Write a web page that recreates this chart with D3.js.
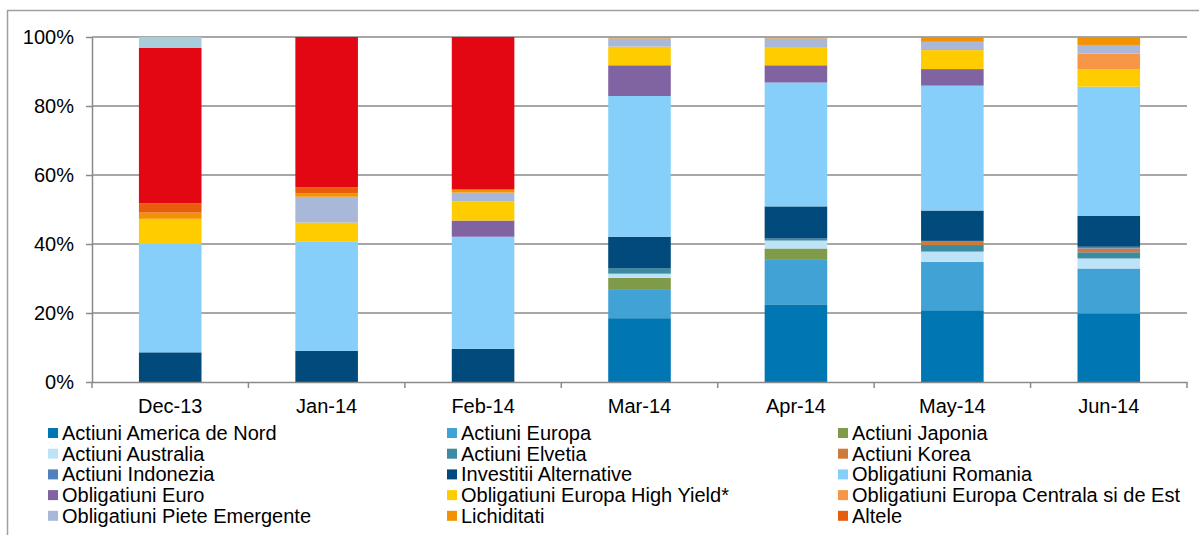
<!DOCTYPE html>
<html>
<head>
<meta charset="utf-8">
<script src="https://cdn.jsdelivr.net/npm/d3@7"></script>
<style>
  body { margin: 0; background: #fff; }
  svg text { font-family: "Liberation Sans", Arial, sans-serif; }
  .axis text { font-size: 20px; fill: #000; }
  .axis path, .axis line { stroke: #8a8a8a; stroke-width: 1.5; }
</style>
</head>
<body>
<script>
var months = ['Dec-13','Jan-14','Feb-14','Mar-14','Apr-14','May-14','Jun-14'];

var seriesNames = ['Actiuni America de Nord','Actiuni Europa','Actiuni Japonia','Actiuni Australia',
  'Actiuni Elvetia','Actiuni Korea','Actiuni Indonezia','Investitii Alternative','Obligatiuni Romania',
  'Obligatiuni Euro','Obligatiuni Europa High Yield*','Obligatiuni Europa Centrala si de Est',
  'Obligatiuni Piete Emergente','Lichiditati','Altele','Fonduri','Depozite'];

var seriesColors = ['#0077b3','#41a3d5','#7f9a48','#bde3f8','#3c8ba0','#d07a3a','#4f81bd','#004a7c',
  '#86cffa','#8064a2','#ffcc00','#f79646','#a9b8d8','#f39200','#e85d0c','#e30613','#a8cedc'];

// values per series, one per month (percent)
var americaNord   = [0, 0, 0, 18.5, 22.5, 20.8, 19.9];
var europa        = [0, 0, 0, 8.2, 12.9, 14.0, 13.0];
var japonia       = [0, 0, 0, 3.5, 3.3, 0, 0];
var australia     = [0, 0, 0, 1.2, 2.3, 3.0, 2.9];
var elvetia       = [0, 0, 0, 1.5, 0.6, 1.9, 1.8];
var korea         = [0, 0, 0, 0, 0, 1.2, 1.1];
var indonezia     = [0, 0, 0, 0, 0, 0, 0.5];
var invAlt        = [8.6, 9.0, 9.6, 9.2, 9.3, 8.8, 9.0];
var oblRomania    = [31.4, 31.8, 32.5, 40.8, 35.9, 36.2, 37.4];
var oblEuro       = [0, 0, 4.7, 8.9, 5.0, 4.8, 0];
var highYield     = [7.3, 5.4, 5.5, 5.4, 5.3, 5.5, 5.0];
var europaCE      = [0, 0, 0, 0, 0, 0, 4.6];
var pieteEm       = [0, 7.5, 2.6, 2.4, 2.5, 2.4, 2.5];
var lichiditati   = [1.8, 1.0, 0.9, 0.4, 0.4, 1.4, 2.3];
var altele        = [2.7, 1.7, 0, 0, 0, 0, 0];
var fonduri       = [45.1, 43.6, 44.2, 0, 0, 0, 0];
var depozite      = [3.1, 0, 0, 0, 0, 0, 0];

var seriesValues = [americaNord, europa, japonia, australia, elvetia, korea, indonezia, invAlt,
  oblRomania, oblEuro, highYield, europaCE, pieteEm, lichiditati, altele, fonduri, depozite];

var legendCount = 15; // last two series are not in the legend

var width = 1199, height = 535;
var margin = {left: 92, right: 12, top: 37, bottom: 153};
var plotW = width - margin.left - margin.right;
var plotH = height - margin.top - margin.bottom;

var table = months.map(function(m, i) {
  var row = {month: m};
  seriesNames.forEach(function(s, j) { row[s] = seriesValues[j][i]; });
  return row;
});

var stack = d3.stack().keys(seriesNames);
var stacked = stack(table);

var x = d3.scaleBand().domain(months).range([0, plotW]).paddingInner(0.6).paddingOuter(0.3);
var y = d3.scaleLinear().domain([0, 100]).range([plotH, 0]);
var color = d3.scaleOrdinal().domain(seriesNames).range(seriesColors);

var svg = d3.select("body").append("svg").attr("width", width).attr("height", height);

// outer frame (top and left edges)
svg.append("path").attr("d", "M7.5,535 L7.5,10.5 L1199,10.5")
  .attr("fill", "none").attr("stroke", "#a0a0a0").attr("stroke-width", 1.5);

var chartGroup = svg.append("g").attr("transform", "translate(" + margin.left + "," + margin.top + ")");

// gridlines
chartGroup.append("g").selectAll("line").data(y.ticks(5).filter(function(d) { return d > 0; }))
  .enter().append("line")
  .attr("x1", 0).attr("x2", plotW)
  .attr("y1", function(d) { return y(d); }).attr("y2", function(d) { return y(d); })
  .attr("stroke", "#8a8a8a").attr("stroke-width", 1.5);

chartGroup.append("g").selectAll("g").data(stacked).enter().append("g")
  .attr("fill", function(d) { return color(d.key); })
  .selectAll("rect").data(function(d) { return d; }).enter().append("rect")
  .attr("x", function(d) { return x(d.data.month); })
  .attr("width", x.bandwidth())
  .attr("y", function(d) { return y(d[1]); })
  .attr("height", function(d) { return Math.max(0, y(d[0]) - y(d[1])); });

var yAxis = d3.axisLeft(y).ticks(5).tickFormat(function(d) { return d + "%"; })
  .tickSize(6).tickPadding(12).tickSizeOuter(0);
chartGroup.append("g").attr("class", "axis y").call(yAxis);

var xAxis = d3.axisBottom(x).tickSize(0).tickPadding(17).tickSizeOuter(0);
var xg = chartGroup.append("g").attr("class", "axis x")
  .attr("transform", "translate(0," + plotH + ")").call(xAxis);

// tick marks between categories
var step = x.step();
xg.selectAll(".sep").data(d3.range(months.length + 1)).enter().append("line")
  .attr("class", "sep")
  .attr("x1", function(d) { return d * step; }).attr("x2", function(d) { return d * step; })
  .attr("y1", 0).attr("y2", 6);

chartGroup.selectAll(".axis").attr("font-family", null);

// legend
var legendCols = [48, 447, 838];
var legend = svg.append("g").selectAll("g").data(seriesNames.slice(0, legendCount)).enter().append("g")
  .attr("transform", function(d, i) {
    return "translate(" + legendCols[i % 3] + "," + (433 + Math.floor(i / 3) * 20.7) + ")";
  });
legend.append("rect").attr("x", 0).attr("y", -5).attr("width", 10).attr("height", 10)
  .attr("fill", function(d) { return color(d); });
legend.append("text").attr("x", 14).attr("y", 0).attr("dy", "0.35em")
  .attr("font-size", 20).text(function(d) { return d; });
</script>
</body>
</html>
